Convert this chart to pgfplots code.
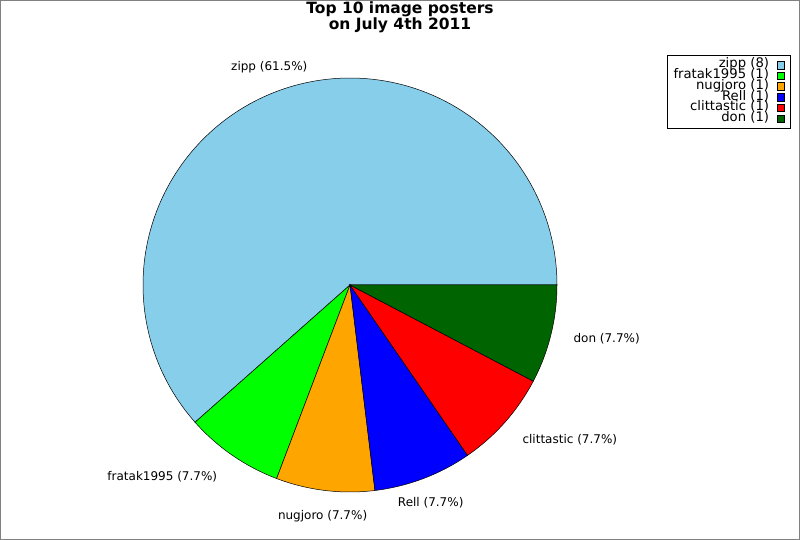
\documentclass[border=0pt]{standalone}
\usepackage{pgfplots}
\pgfplotsset{compat=1.18}
\usepackage{fontspec}
\setmainfont{DejaVu Sans}
\definecolor{pieskyblue}{HTML}{87CEEB}
\definecolor{pielime}{HTML}{00FF00}
\definecolor{pieorange}{HTML}{FFA500}
\definecolor{pieblue}{HTML}{0000FF}
\definecolor{piered}{HTML}{FF0000}
\definecolor{piedarkgreen}{HTML}{006400}
\begin{document}
\begin{tikzpicture}
\begin{axis}[
  width=800pt, height=540pt, scale only axis,
  xmin=0, xmax=800, ymin=0, ymax=540,
  hide axis, clip=false,
  legend plot pos=right,
  legend cell align=right,
  legend image code/.code={\draw[#1,draw=black,line width=0.5pt] (0pt,-3.8pt) rectangle (6.5pt,3.8pt);},
  legend style={at={(0.98875,0.8981)}, anchor=north east, draw=black, line width=0.9pt,
    font=\fontsize{13.2}{10.7}\selectfont, inner xsep=6.5pt, inner ysep=4.3pt, row sep=0pt, column sep=8pt,
    nodes={inner sep=0pt, text height=8.2pt, text depth=2.5pt}},
]
% counts: zipp 8, fratak1995 1, nugjoro 1, Rell 1, clittastic 1, don 1 (total 13)
\addplot[fill=pieskyblue, draw=black, line width=0.5pt, domain=0:221.538, samples=150, variable=\t]
  ({350+207*cos(t)},{255+207*sin(t)}) -- (axis cs:350,255) -- cycle;
\addlegendentry{zipp (8)}
\addplot[fill=pielime, draw=black, line width=0.5pt, domain=221.538:249.231, samples=30, variable=\t]
  ({350+207*cos(t)},{255+207*sin(t)}) -- (axis cs:350,255) -- cycle;
\addlegendentry{fratak1995 (1)}
\addplot[fill=pieorange, draw=black, line width=0.5pt, domain=249.231:276.923, samples=30, variable=\t]
  ({350+207*cos(t)},{255+207*sin(t)}) -- (axis cs:350,255) -- cycle;
\addlegendentry{nugjoro (1)}
\addplot[fill=pieblue, draw=black, line width=0.5pt, domain=276.923:304.615, samples=30, variable=\t]
  ({350+207*cos(t)},{255+207*sin(t)}) -- (axis cs:350,255) -- cycle;
\addlegendentry{Rell (1)}
\addplot[fill=piered, draw=black, line width=0.5pt, domain=304.615:332.308, samples=30, variable=\t]
  ({350+207*cos(t)},{255+207*sin(t)}) -- (axis cs:350,255) -- cycle;
\addlegendentry{clittastic (1)}
\addplot[fill=piedarkgreen, draw=black, line width=0.5pt, domain=332.308:360, samples=30, variable=\t]
  ({350+207*cos(t)},{255+207*sin(t)}) -- (axis cs:350,255) -- cycle;
\addlegendentry{don (1)}
% labels
\begin{scope}[font=\fontsize{12}{14}\selectfont]
\node[anchor=center] at (axis cs:269.3,473) {zipp (61.5\%)};
\node[anchor=east] at (axis cs:220.7,63.5) {fratak1995 (7.7\%)};
\node[anchor=center] at (axis cs:322.6,23.5) {nugjoro (7.7\%)};
\node[anchor=center] at (axis cs:430.7,37.5) {Rell (7.7\%)};
\node[anchor=west] at (axis cs:519,100.5) {clittastic (7.7\%)};
\node[anchor=west] at (axis cs:570,201) {don (7.7\%)};
\end{scope}
\node[align=center, font=\fontsize{15.5}{14}\selectfont\bfseries] at (axis cs:400,523) {Top 10 image posters\\on July 4th 2011};
\draw[gray, line width=1pt] (axis cs:0.5,0.5) rectangle (axis cs:799.5,539.5);
\end{axis}
\pgfresetboundingbox
\path (current axis.south west) rectangle (current axis.north east);
\end{tikzpicture}
\end{document}
